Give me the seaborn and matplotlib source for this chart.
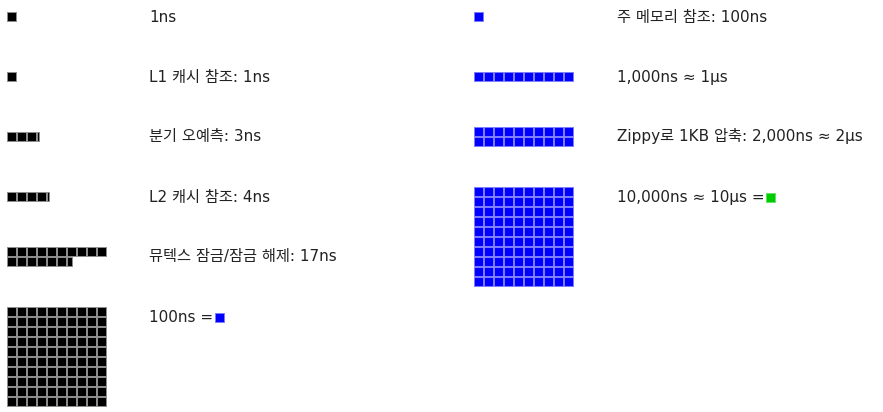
import numpy as np
import seaborn as sns
import matplotlib.pyplot as plt

# data: label texts and number of cells (one cell = 1ns on the left, 100ns on the right)
left_labels = ["1ns", "L1 캐시 참조: 1ns", "분기 오예측: 3ns", "L2 캐시 참조: 4ns",
               "뮤텍스 잠금/잠금 해제: 17ns", "100ns ="]
left_cells = [1, 1, 3.3, 4.3, 16.6, 100]
right_labels = ["주 메모리 참조: 100ns", "1,000ns ≈ 1µs", "Zippy로 1KB 압축: 2,000ns ≈ 2µs",
                "10,000ns ≈ 10µs ="]
right_cells = [1, 10, 20, 100]

sns.set_theme(style="white")
plt.rcParams['font.family'] = ['DejaVu Sans', 'Noto Sans CJK KR']

W, H = 883, 412
CELL = 10
fig = plt.figure(figsize=(W / 100, H / 100), dpi=100)
ax = fig.add_axes([0, 0, 1, 1])
ax.set_xlim(0, W)
ax.set_ylim(H, 0)
ax.axis('off')

lw = 72 / 100  # 1px in points


def draw_cells(ax, n, x0, top, face, edge):
    full = int(np.floor(n))
    frac = n - full
    widths, lefts, ys = [], [], []
    for k in range(full + (1 if frac > 0.01 else 0)):
        w = CELL if k < full else frac * CELL
        r, c = divmod(k, 10)
        lefts.append(x0 + c * CELL + 0.5)
        widths.append(w - 1)
        ys.append(top + r * CELL + CELL / 2)
    ax.barh(ys, widths, left=lefts, height=CELL - 1, color=face,
            edgecolor=edge, linewidth=lw)


def draw_column(labels, cells, x_sq, x_txt, face, edge):
    texts = []
    for i, (lab, n) in enumerate(zip(labels, cells)):
        center = 16 + 60 * i
        rows = int(np.ceil(n / 10))
        top = center - min(rows * CELL, 20) / 2
        draw_cells(ax, n, x_sq, top, face, edge)
        t = ax.text(x_txt, center + 5.5, lab, fontsize=11, color='#222222',
                    va='baseline', ha='left')
        texts.append(t)
    return texts


lt = draw_column(left_labels, left_cells, 6, 149, '#000000', '#8c8c8c')
rt = draw_column(right_labels, right_cells, 473, 617, '#0000ff', '#7c7cff')

# small squares after the "=" signs
fig.canvas.draw()
inv = ax.transData.inverted()
for t, face, edge in [(lt[-1], '#0000ff', '#7c7cff'), (rt[-1], '#00cc00', '#66e066')]:
    bb = t.get_window_extent()
    x_end = inv.transform((bb.x1, bb.y0))[0]
    base = t.get_position()[1]
    draw_cells(ax, 1, x_end + 1, base - CELL + 0.5, face, edge)

fig.savefig('out.png', dpi=100)
